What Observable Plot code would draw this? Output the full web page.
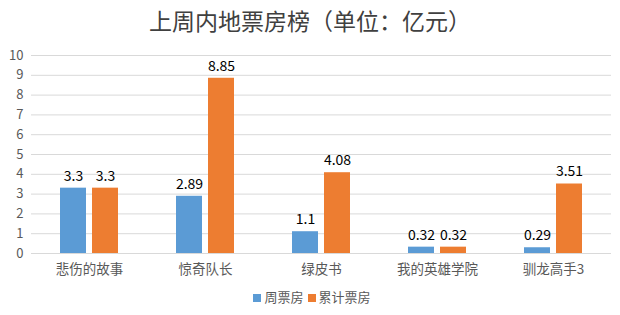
<!DOCTYPE html>
<html><head><meta charset="utf-8">
<script src="https://cdn.jsdelivr.net/npm/d3@7"></script>
<script src="https://cdn.jsdelivr.net/npm/@observablehq/plot@0.6"></script>
<style>
body{margin:0;background:#fff;font-family:"Noto Sans CJK SC","Noto Sans",sans-serif;}
#title{height:40px;line-height:40px;text-align:center;font-size:23px;color:#404040;font-weight:normal;}
#legend{text-align:center;font-size:13px;color:#595959;margin-top:2px;}
#legend span.sw{display:inline-block;width:8px;height:8px;margin:0 3px 0 4px;vertical-align:0px;}
</style></head>
<body>
<div id="title">上周内地票房榜（单位：亿元）</div>
<div id="chart"></div>
<div id="legend"><span class="sw" style="background:#5B9BD5"></span>周票房<span class="sw" style="background:#ED7D31"></span>累计票房</div>
<script>
const categories = ["悲伤的故事","惊奇队长","绿皮书","我的英雄学院","驯龙高手3"];
const seriesNames = ["周票房","累计票房"];
const weekly = [3.3, 2.89, 1.1, 0.32, 0.29];
const total = [3.3, 8.85, 4.08, 0.32, 3.51];
const colors = ["#5B9BD5","#ED7D31"];
const yTicks = [0,1,2,3,4,5,6,7,8,9,10];

const data = [];
categories.forEach((c,i)=>{
  data.push({cat:c, series:seriesNames[0], value:weekly[i]});
  data.push({cat:c, series:seriesNames[1], value:total[i]});
});

const chart = Plot.plot({
  width:620, height:245,
  marginTop:15, marginBottom:32, marginLeft:30, marginRight:8,
  style:{fontFamily:'"Noto Sans CJK SC","Noto Sans",sans-serif', fontSize:"13.5px", color:"#595959"},
  fx:{domain:categories, padding:0, label:null, axis:"bottom", tickSize:0, tickPadding:11},
  x:{domain:seriesNames, axis:null, paddingInner:0.19, paddingOuter:0.9},
  y:{domain:[0,10], axis:null},
  color:{domain:seriesNames, range:colors},
  marks:[
    Plot.ruleY(yTicks,{stroke:"#d9d9d9", strokeWidth:1}),
    Plot.axisY({ticks:yTicks, tickSize:0, tickPadding:8, label:null, fill:"#595959", fontSize:13}),
    Plot.barY(data,{fx:"cat", x:"series", y:"value", fill:"series"}),
    Plot.text(data,{fx:"cat", x:"series", y:"value", text:d=>String(d.value), dy:-12, fill:"#000", fontSize:14})
  ]
});
document.getElementById("chart").appendChild(chart);
</script>
</body></html>
